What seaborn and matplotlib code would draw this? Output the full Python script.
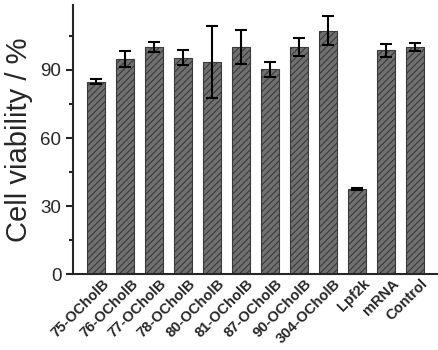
import matplotlib
matplotlib.use("Agg")
import matplotlib.pyplot as plt
import matplotlib.transforms as mtransforms
import seaborn as sns
import pandas as pd
import numpy as np

categories = ["75-OCholB", "76-OCholB", "77-OCholB", "78-OCholB", "80-OCholB",
              "81-OCholB", "87-OCholB", "90-OCholB", "304-OCholB", "Lpf2k",
              "mRNA", "Control"]
viability = [84.8, 94.8, 100.2, 95.5, 93.6, 100.0, 90.4, 100.0, 107.2, 37.5, 98.6, 100.1]
errors = [1.2, 3.7, 2.1, 3.1, 16.0, 7.5, 3.3, 3.9, 6.4, 0.6, 2.9, 1.9]
yticks = [0, 30, 60, 90]

sns.set_style("ticks")
plt.rcParams['font.family'] = ['Liberation Sans', 'DejaVu Sans']
plt.rcParams['hatch.linewidth'] = 0.8
plt.rcParams['hatch.color'] = '#1a1a1a'

df = pd.DataFrame({"cat": categories, "val": viability, "err": errors})

fig = plt.figure(figsize=(4.38, 3.5), dpi=100)
ax = fig.add_axes([0.167, 0.217, 0.833, 0.769])

sns.barplot(data=df, x="cat", y="val", order=categories, color="#707070",
            width=0.62, errorbar=None, ax=ax, saturation=1,
            edgecolor="#3a3a3a", linewidth=0.8, hatch="/////")
ax.errorbar(np.arange(len(categories)), df["val"], yerr=df["err"], fmt="none",
            ecolor="black", elinewidth=1.5, capsize=4.5, capthick=1.5)

ax.set_xlim(-0.79, 11.8)
ax.set_ylim(0, 118.7)
ax.set_yticks(yticks)
ax.set_yticks([15, 45, 75, 105], minor=True)
ax.tick_params(axis='y', which='major', labelsize=13.5, length=5, width=1.5, direction='out')
ax.tick_params(axis='y', which='minor', length=3, width=1.5, direction='out')
ax.tick_params(axis='x', length=0, pad=2)
ax.set_xticks(range(len(categories)))
ax.set_xticklabels(categories, rotation=45, ha='right', rotation_mode='anchor',
                   fontsize=10.5, fontweight='bold')
offset = mtransforms.ScaledTranslation(4 / 72, 0, fig.dpi_scale_trans)
for lab in ax.get_xticklabels():
    lab.set_transform(lab.get_transform() + offset)
ax.set_xlabel("")
ax.set_ylabel("Cell viability / %", fontsize=21, labelpad=5)
for s in ["top", "right"]:
    ax.spines[s].set_visible(False)
ax.spines["left"].set_linewidth(1.5)
ax.spines["bottom"].set_linewidth(1.5)

fig.savefig("out.png", dpi=100)
